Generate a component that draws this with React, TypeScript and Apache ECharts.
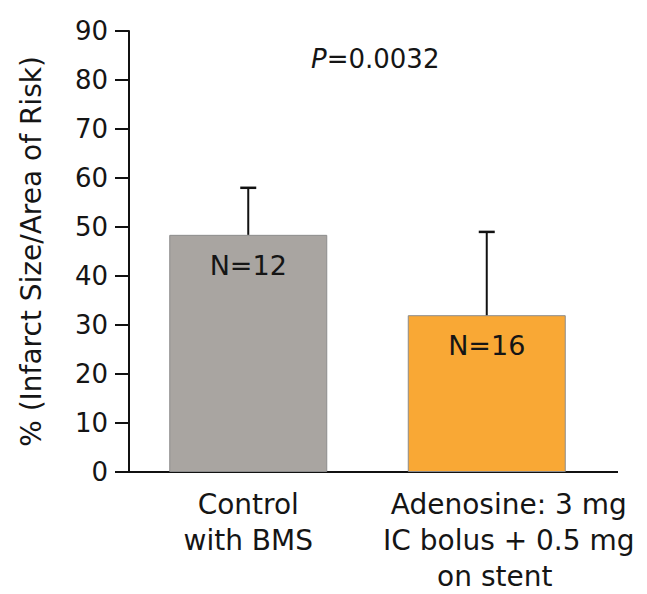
import React, { useEffect, useRef } from "react";
import * as echarts from "echarts";

const categories = ["Control\nwith BMS", "Adenosine: 3 mg\nIC bolus + 0.5 mg\non stent"];
const means = [48.4, 32.0];
const upperErrors = [58.0, 49.0];
const sampleLabels = ["N=12", "N=16"];
const barColors = ["#A9A5A1", "#F9A835"];
const yMin = 0;
const yMax = 90;
const yInterval = 10;
const yAxisTitle = "% (Infarct Size/Area of Risk)";
const pLabel = "P";
const pValue = "=0.0032";

const FONT = "DejaVu Sans";

export default function App() {
  const ref = useRef<HTMLDivElement>(null);
  useEffect(() => {
    if (!ref.current) return;
    const chart = echarts.init(ref.current, null, { renderer: "svg" });
    const option: any = {
      animation: false,
      backgroundColor: "#ffffff",
      grid: { left: 129, top: 31, right: 41, bottom: 122, containLabel: false, outerBoundsMode: "none" },
      xAxis: {
        type: "category",
        data: categories.map((c, i) =>
          i === 1 ? { value: c, textStyle: { padding: [0, 0, 0, 44] } } : c
        ),
        axisLine: { show: true, lineStyle: { color: "#111", width: 2 } },
        axisTick: { show: false },
        axisLabel: {
          interval: 0,
          fontFamily: FONT,
          fontSize: 28,
          color: "#151515",
          lineHeight: 36,
          margin: 14,
          align: "center",
          formatter: (v: string) => {
            const lines = v.split("\n");
            if (lines.length === 3) {
              return `{a|${lines[0]}}\n{a|${lines[1]}}\n{b|${lines[2]}}`;
            }
            return lines.map((l) => `{a|${l}}`).join("\n");
          },
          rich: {
            a: { fontFamily: FONT, fontSize: 28, lineHeight: 36, color: "#151515" },
            b: { fontFamily: FONT, fontSize: 28, lineHeight: 36, color: "#151515", padding: [0, 28, 0, 0] },
          },
        },
      },
      yAxis: {
        type: "value",
        min: yMin,
        max: yMax,
        interval: yInterval,
        name: yAxisTitle,
        nameLocation: "middle",
        nameGap: 84,
        nameRotate: 90,
        nameTextStyle: { fontFamily: FONT, fontSize: 28, color: "#151515" },
        axisLine: { show: true, lineStyle: { color: "#111", width: 2 } },
        axisTick: { show: true, inside: false, length: 14, lineStyle: { color: "#111", width: 2 } },
        axisLabel: { fontFamily: FONT, fontSize: 26, color: "#151515", margin: 21 },
        splitLine: { show: false },
      },
      series: [
        {
          type: "bar",
          barWidth: 158,
          data: means.map((m, i) => ({
            value: m,
            itemStyle: { color: barColors[i], borderColor: "#8c8c8c", borderWidth: 1 },
            label: {
              show: true,
              position: "insideTop",
              distance: 17,
              formatter: sampleLabels[i],
              fontFamily: FONT,
              fontSize: 27,
              color: "#151515",
            },
          })),
          z: 2,
        },
        {
          type: "custom",
          z: 3,
          data: means.map((m, i) => [i, m, upperErrors[i]]),
          renderItem: (params: any, api: any) => {
            const idx = api.value(0);
            const base = api.coord([idx, api.value(1)]);
            const top = api.coord([idx, api.value(2)]);
            const x = base[0];
            const half = 8;
            return {
              type: "group",
              children: [
                {
                  type: "line",
                  shape: { x1: x, y1: base[1], x2: x, y2: top[1] },
                  style: { stroke: "#111", lineWidth: 2 },
                },
                {
                  type: "line",
                  shape: { x1: x - half, y1: top[1], x2: x + half, y2: top[1] },
                  style: { stroke: "#111", lineWidth: 2.5 },
                },
              ],
            };
          },
        },
      ],
      graphic: [
        {
          type: "line",
          shape: { x1: 604, y1: 472, x2: 618, y2: 472 },
          style: { stroke: "#111", lineWidth: 2 },
        },
        {
          type: "text",
          left: 311,
          top: 46,
          style: {
            text: `{i|${pLabel}}{n|${pValue}}`,
            rich: {
              i: { fontFamily: FONT, fontSize: 26, fontStyle: "italic", fill: "#151515" },
              n: { fontFamily: FONT, fontSize: 26, fill: "#151515" },
            },
          },
        },
      ],
    };
    chart.setOption(option);
    return () => chart.dispose();
  }, []);
  return (
    <div
      ref={ref}
      style={{ position: "absolute", left: 0, top: 0, width: 647, height: 594 }}
    />
  );
}
